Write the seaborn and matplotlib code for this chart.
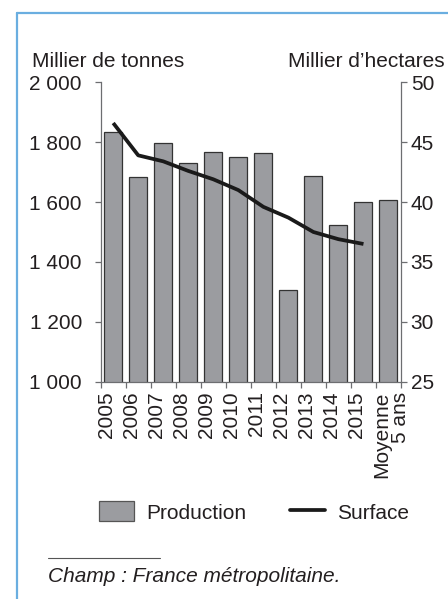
import matplotlib
matplotlib.use('Agg')
import matplotlib.pyplot as plt
import matplotlib.transforms as mtransforms
import seaborn as sns
import pandas as pd
from matplotlib.patches import Patch
from matplotlib.lines import Line2D
from matplotlib.ticker import FuncFormatter

# ---- data ----
categories = ['2005', '2006', '2007', '2008', '2009', '2010', '2011',
              '2012', '2013', '2014', '2015', 'Moyenne\n5 ans']
production = [1835, 1685, 1797, 1730, 1767, 1752, 1763, 1307, 1688, 1524, 1601, 1608]
surface_years = ['2005', '2006', '2007', '2008', '2009', '2010', '2011',
                 '2012', '2013', '2014', '2015']
surface = [46.6, 43.9, 43.4, 42.6, 41.9, 41.0, 39.6, 38.7, 37.5, 36.9, 36.5]
left_ticks = [1000, 1200, 1400, 1600, 1800, 2000]
right_ticks = [25, 30, 35, 40, 45, 50]

sns.set_theme(style='ticks')
plt.rcParams['font.family'] = ['Liberation Sans', 'DejaVu Sans']

W, H = 448, 599
text_color = '#231f20'
spine_color = '#6d6e71'
bar_color = '#9b9ca0'
fs = 15

fig = plt.figure(figsize=(W / 100, H / 100), dpi=100)
fig.patch.set_facecolor('white')
ax = fig.add_axes([100.7 / W, 1 - 381.7 / H, 300.3 / W, (381.7 - 82.3) / H])

df = pd.DataFrame({'cat': categories, 'prod': production})
sns.barplot(data=df, x='cat', y='prod', color=bar_color, saturation=1,
            edgecolor='#333333', linewidth=0.9, width=0.72, ax=ax)
ax.set_ylim(left_ticks[0], left_ticks[-1])
ax.set_xlim(-0.5, len(categories) - 0.5)
ax.set_xlabel('')
ax.set_ylabel('')

ax2 = ax.twinx()
xs = [categories.index(c) for c in surface_years]
sns.lineplot(x=xs, y=surface, color='#1a1a1a', linewidth=2.7, ax=ax2,
             solid_capstyle='butt')
ax2.set_ylim(right_ticks[0], right_ticks[-1])
ax2.set_ylabel('')
ax.set_xlim(-0.5, len(categories) - 0.5)

# spines
for s in ['top', 'right']:
    ax.spines[s].set_visible(False)
for s in ['top', 'left', 'bottom']:
    ax2.spines[s].set_visible(False)
for a, sides in [(ax, ['left', 'bottom']), (ax2, ['right'])]:
    for s in sides:
        a.spines[s].set_color(spine_color)
        a.spines[s].set_linewidth(0.9)

# y ticks
ax.set_yticks(left_ticks)
ax.yaxis.set_major_formatter(FuncFormatter(lambda v, p: f"{v:,.0f}".replace(',', ' ')))
ax.tick_params(axis='y', direction='out', length=4.6, width=0.9, color=spine_color,
               pad=8.9, labelsize=fs, labelcolor=text_color)
ax2.set_yticks(right_ticks)
ax2.tick_params(axis='y', direction='out', length=4.3, width=0.9, color=spine_color,
                pad=2.7, labelsize=fs, labelcolor=text_color)

# x ticks
ax.set_xticks(range(len(categories)))
ax.set_xticklabels(categories, rotation=90, ha='right', va='top',
                   rotation_mode='anchor', linespacing=0.95)
ax.set_xticks([i - 0.5 for i in range(len(categories) + 1)], minor=True)
ax.tick_params(axis='x', which='major', length=0, pad=7.0, labelsize=fs,
               labelcolor=text_color)
ax.tick_params(axis='x', which='minor', direction='out', length=4.6, width=0.9,
               color=spine_color)
shift = mtransforms.ScaledTranslation(-16.0 / 100, 0, fig.dpi_scale_trans)
for lab in ax.get_xticklabels():
    lab.set_transform(lab.get_transform() + shift)

# axis titles
fig.text(31.7 / W, 1 - 66.7 / H, 'Millier de tonnes', ha='left', va='baseline',
         fontsize=fs, color=text_color)
fig.text(445 / W, 1 - 66.7 / H, 'Millier d\u2019hectares', ha='right', va='baseline',
         fontsize=fs, color=text_color)

# legend
handles = [Patch(facecolor=bar_color, edgecolor='#555555', linewidth=0.9, label='Production'),
           Line2D([], [], color='#1a1a1a', linewidth=2.7, label='Surface')]
leg = fig.legend(handles=handles, loc='center left', bbox_to_anchor=(99 / W, 1 - 512 / H),
                 ncol=2, frameon=False, fontsize=fs, handlelength=1.7, handleheight=1.1,
                 handletextpad=0.55, columnspacing=2.1, borderpad=0, borderaxespad=0)
for t in leg.get_texts():
    t.set_color(text_color)

# separator and note
fig.add_artist(Line2D([48 / W, 160 / W], [1 - 557.7 / H] * 2, transform=fig.transFigure,
                      color='#555555', linewidth=0.8))
fig.text(48 / W, 1 - 582 / H, 'Champ : France m\u00e9tropolitaine.', style='italic',
         ha='left', va='baseline', fontsize=fs, color=text_color)

# blue frame
frame_color = '#6aaee0'
fig.add_artist(Line2D([17 / W, 1], [1 - 13 / H] * 2, transform=fig.transFigure,
                      color=frame_color, linewidth=1.6))
fig.add_artist(Line2D([17 / W, 17 / W], [0, 1 - 13 / H], transform=fig.transFigure,
                      color=frame_color, linewidth=1.6))

fig.savefig('out.png', dpi=100)
